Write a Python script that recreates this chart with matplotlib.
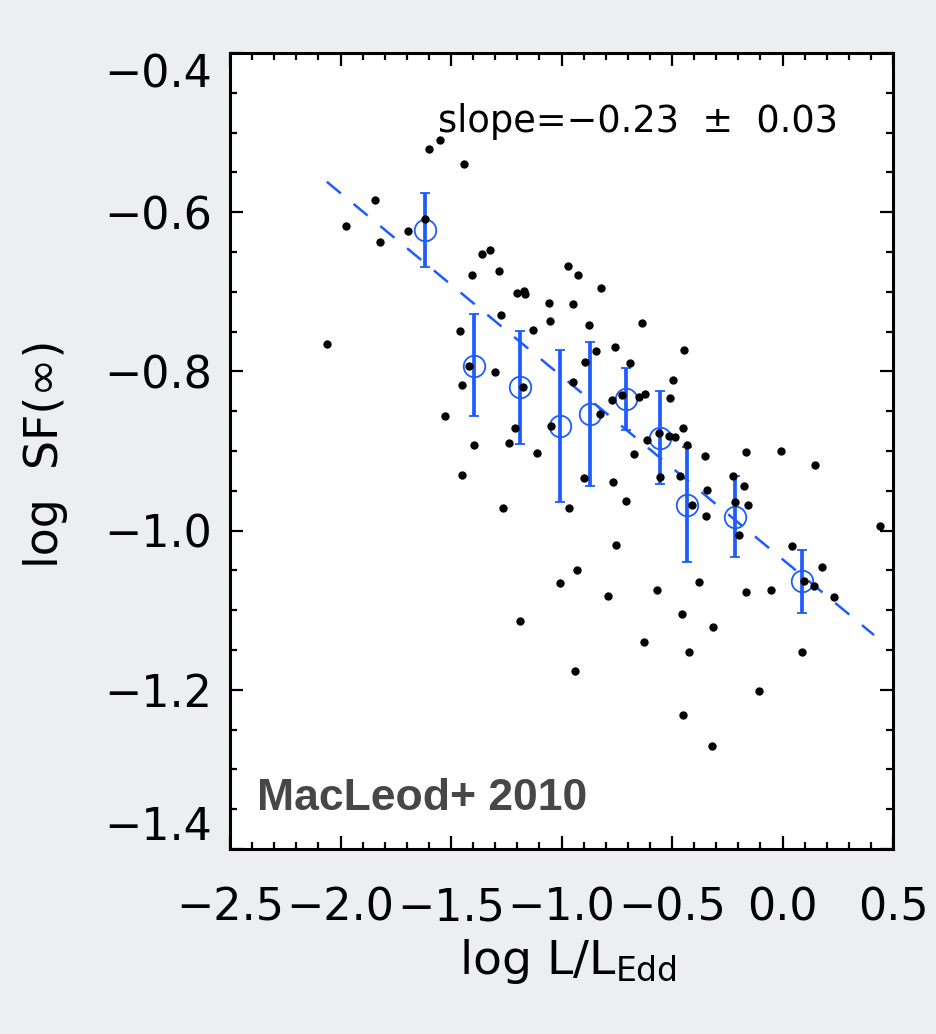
import matplotlib
matplotlib.use("Agg")
import matplotlib.pyplot as plt
import numpy as np
from matplotlib.ticker import MultipleLocator, FixedLocator

plt.rcParams['mathtext.default'] = 'regular'
plt.rcParams['font.family'] = ['DejaVu Sans']

# ---- data: individual objects ----
logL = [-1.973, -1.843, -1.821, -1.693, -1.617, -1.598, -1.549, -1.441, -1.406, -1.358,
        -1.322, -1.283, -1.203, -1.169, -1.165, -1.058, -1.274, -0.969, -0.924, -0.821,
        -0.948, -1.052, -0.874, -1.128, -1.459, -0.846, -0.894, -2.062, -1.418, -1.300,
        -1.449, -1.173, -0.949, -1.529, -1.209, -1.048, -1.397, -1.236, -1.111, -1.449,
        -1.266, -0.634, -0.758, -0.444, -0.690, -0.497, -0.770, -0.724, -0.650, -0.620,
        -0.510, -0.826, -0.449, -0.614, -0.561, -0.515, -0.486, -0.673, -0.430, -0.349,
        -0.164, -0.009, 0.146, -0.900, -0.767, -0.554, -0.463, -0.708, -0.341, -0.223,
        -0.173, -0.214, -0.154, -0.411, -0.966, -0.345, -0.197, 0.441, -0.753, 0.044,
        -0.931, -1.008, -0.376, 0.178, 0.096, 0.142, 0.234, -0.790, -0.570, -0.164,
        -0.050, -0.455, -0.316, -0.628, -0.425, 0.088, -0.106, -0.452, -0.319, -1.190,
        -0.938]
logSF = [-0.617, -0.585, -0.638, -0.623, -0.608, -0.520, -0.509, -0.540, -0.679, -0.653,
         -0.647, -0.674, -0.701, -0.699, -0.703, -0.714, -0.729, -0.667, -0.679, -0.695,
         -0.715, -0.737, -0.742, -0.748, -0.749, -0.774, -0.788, -0.766, -0.793, -0.801,
         -0.817, -0.820, -0.813, -0.856, -0.871, -0.869, -0.892, -0.890, -0.903, -0.930,
         -0.972, -0.739, -0.769, -0.773, -0.790, -0.811, -0.836, -0.830, -0.832, -0.828,
         -0.833, -0.853, -0.871, -0.886, -0.877, -0.881, -0.883, -0.904, -0.893, -0.906,
         -0.901, -0.900, -0.918, -0.934, -0.939, -0.933, -0.932, -0.963, -0.949, -0.932,
         -0.944, -0.964, -0.968, -0.968, -0.972, -0.982, -1.005, -0.994, -1.018, -1.019,
         -1.049, -1.066, -1.064, -1.046, -1.063, -1.069, -1.083, -1.082, -1.075, -1.077,
         -1.075, -1.105, -1.121, -1.140, -1.153, -1.153, -1.202, -1.232, -1.271, -1.114,
         -1.176]

# ---- data: binned means ----
bin_x = [-1.616, -1.397, -1.189, -1.007, -0.873, -0.707, -0.553, -0.431, -0.214, 0.089]
bin_y = [-0.622, -0.793, -0.820, -0.869, -0.8535, -0.835, -0.884, -0.9675, -0.9825, -1.0637]
bin_top = [-0.5755, -0.728, -0.749, -0.7725, -0.7627, -0.796, -0.824, -0.8946, -0.932, -1.0248]
bin_bot = [-0.669, -0.856, -0.891, -0.9645, -0.9437, -0.8736, -0.9417, -1.039, -1.0328, -1.103]

# ---- fit ----
fit_slope = -0.23
fit_intercept = -1.036
fit_range = [-2.062, 0.414]

xticks = [-2.5, -2.0, -1.5, -1.0, -0.5, 0.0, 0.5]
xticklabels = ['−2.5', '−2.0', '−1.5', '−1.0', '−0.5', '0.0', '0.5']
yticks = [-1.4, -1.2, -1.0, -0.8, -0.6, -0.4]
yticklabels = ['−1.4', '−1.2', '−1.0', '−0.8', '−0.6', '−0.4']

blue = '#1d5cff'
W, H = 936, 1034
fig = plt.figure(figsize=(W / 100, H / 100), dpi=100, facecolor='#eceef0')
ax = fig.add_axes([230 / W, 1 - 849 / H, 663 / W, 796 / H])
ax.set_facecolor('white')
ax.set_xlim(-2.5, 0.5)
ax.set_ylim(-1.4, -0.4)

fx = np.array(fit_range)
ax.plot(fx, fit_intercept + fit_slope * fx, color=blue, lw=1.8,
        dashes=(7.3, 6.6), zorder=2)

by = np.array(bin_y)
yerr = [by - np.array(bin_bot), np.array(bin_top) - by]
ax.errorbar(bin_x, bin_y, yerr=yerr, fmt='o', ms=15.5, mfc='none', mec=blue, mew=1.3,
            ecolor=blue, elinewidth=2.7, capsize=3.8, capthick=2.3, zorder=3)

ax.plot(logL, logSF, 'o', ms=6, color='black', mec='none', zorder=4)

ax.xaxis.set_major_locator(FixedLocator(xticks))
ax.yaxis.set_major_locator(FixedLocator(yticks))
ax.xaxis.set_minor_locator(MultipleLocator(0.1))
ax.yaxis.set_minor_locator(MultipleLocator(0.05))
ax.tick_params(which='both', direction='in', top=True, right=True, width=1.6, color='black')
ax.tick_params(which='major', length=9.5)
ax.tick_params(which='minor', length=5)
ax.tick_params(axis='y', labelsize=32, pad=13)
ax.tick_params(axis='x', labelsize=32, pad=27)
ax.set_xticklabels(xticklabels)
# end labels of the y axis are drawn separately (shifted inward like the original)
ax.set_yticklabels([''] + yticklabels[1:-1] + [''])
ax.annotate(yticklabels[0], xy=(0, yticks[0]), xycoords=('axes fraction', 'data'),
            xytext=(-13, 0), textcoords='offset points', ha='right', va='bottom',
            fontsize=32, annotation_clip=False)
ax.annotate(yticklabels[-1], xy=(0, yticks[-1]), xycoords=('axes fraction', 'data'),
            xytext=(-13, 0), textcoords='offset points', ha='right', va='top',
            fontsize=32, annotation_clip=False)
for sp in ax.spines.values():
    sp.set_linewidth(2.2)

fig.text(45 / W, 1 - 454 / H, 'log  SF(∞)', rotation=90, ha='center', va='center',
         fontsize=33)
fig.text(568 / W, 1 - 974 / H, r'log L/L$_{Edd}$', ha='center', va='baseline', fontsize=34)

ax.text((438 - 230) / 663, (849 - 132) / 796, 'slope=−0.23  ±  0.03',
        transform=ax.transAxes, ha='left', va='baseline', fontsize=26.5)
ax.text((257 - 230) / 663, (849 - 810) / 796, 'MacLeod+ 2010', transform=ax.transAxes,
        ha='left', va='baseline', fontsize=32, fontweight='bold',
        family='Liberation Sans', color='#474747')

fig.savefig('out.png', dpi=100, facecolor=fig.get_facecolor())
